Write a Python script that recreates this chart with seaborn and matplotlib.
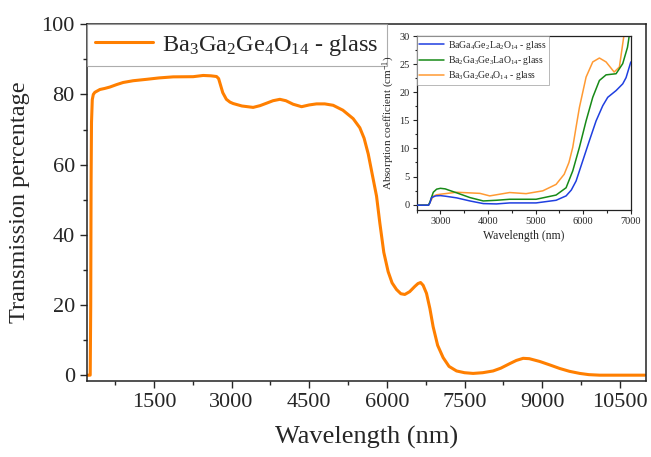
import matplotlib
matplotlib.use("Agg")
import matplotlib.pyplot as plt
from matplotlib.ticker import MultipleLocator
import seaborn as sns
import pandas as pd

# main transmission curve
main_wl = [200, 270, 280, 287, 295, 310, 330, 360, 457, 550, 650, 780, 907, 1100, 1359,
           1600, 1872, 2258, 2452, 2600, 2710, 2750, 2790, 2830, 2900, 2970, 3031, 3200,
           3417, 3550, 3676, 3800, 3933, 4050, 4189, 4352, 4500, 4641, 4800, 4962, 5150,
           5348, 5477, 5560, 5640, 5720, 5800, 5864, 5940, 6024, 6100, 6186, 6270, 6346,
           6440, 6540, 6600, 6650, 6700, 6765, 6830, 6893, 6980, 7086, 7200, 7345, 7500,
           7665, 7850, 8051, 8200, 8374, 8500, 8631, 8750, 8953, 9150, 9339, 9525, 9725,
           9900, 10111, 10980]
main_T = [0, 0, 20, 55, 72, 78.5, 80.0, 80.6, 81.4, 81.7, 82.1, 82.8, 83.4, 83.9, 84.3,
          84.7, 85.0, 85.05, 85.4, 85.3, 85.1, 84.5, 82.5, 80.5, 78.6, 77.8, 77.4, 76.7,
          76.3, 76.8, 77.5, 78.2, 78.6, 78.2, 77.2, 76.5, 77.0, 77.3, 77.3, 76.9, 75.5,
          73.1, 70.5, 67.5, 63.0, 57.0, 51.0, 43.3, 35.0, 29.5, 26.3, 24.4, 23.2, 23.0,
          23.8, 25.3, 26.1, 26.4, 25.6, 23.3, 19.0, 13.8, 8.5, 5.0, 2.5, 1.2, 0.7,
          0.5, 0.7, 1.2, 2.0, 3.3, 4.2, 4.8, 4.7, 3.9, 2.9, 1.9, 1.1, 0.5,
          0.15, 0, 0]

# inset absorption curves
blue_wl = [2500, 2750, 2780, 2814, 2900, 3000, 3100, 3340, 3620, 3900, 4175, 4455, 5010,
           5430, 5640, 5750, 5850, 5990, 6130, 6270, 6410, 6515, 6690, 6830, 6900, 7000]
blue_a = [-0.1, -0.1, 0.3, 1.25, 1.55, 1.6, 1.5, 1.2, 0.65, 0.18, 0.12, 0.3, 0.3,
          0.77, 1.55, 2.6, 4.2, 7.8, 11.4, 14.9, 17.6, 19.1, 20.3, 21.5, 22.6, 25.4]
green_wl = [2500, 2750, 2780, 2850, 2920, 3000, 3100, 3200, 3340, 3620, 3900, 4175, 4455,
            5010, 5430, 5640, 5780, 5920, 6060, 6200, 6340, 6480, 6690, 6830, 6930, 6975]
green_a = [-0.1, -0.1, 0.5, 2.2, 2.75, 2.9, 2.8, 2.5, 2.1, 1.25, 0.65, 0.77, 0.95,
           0.95, 1.7, 3.0, 6.0, 10.2, 14.9, 19.1, 22.1, 23.1, 23.3, 25.1, 28.0, 30.5]
orange_wl = [2500, 2750, 2780, 2850, 2920, 3000, 3340, 3830, 4035, 4455, 4800, 5150, 5430,
             5600, 5700, 5780, 5850, 5920, 6060, 6200, 6340, 6480, 6650, 6760, 6870]
orange_a = [-0.1, -0.1, 0.4, 1.5, 1.75, 1.85, 2.2, 2.0, 1.55, 2.15, 1.95, 2.45, 3.6,
            5.4, 7.5, 10.2, 13.8, 17.3, 22.7, 25.4, 26.1, 25.4, 23.6, 24.5, 31]

labels = [r"BaGa$_4$Ge$_2$La$_2$O$_{14}$ - glass",
          r"Ba$_2$Ga$_3$Ge$_3$LaO$_{14}$- glass",
          r"Ba$_3$Ga$_2$Ge$_4$O$_{14}$ - glass"]
colors = ["#1f3fe0", "#178a17", "#ff9a33"]

sns.set_style("ticks")
plt.rcParams["font.family"] = ["Liberation Serif", "DejaVu Serif"]
plt.rcParams["mathtext.fontset"] = "custom"
plt.rcParams["mathtext.rm"] = "Liberation Serif"
plt.rcParams["mathtext.it"] = "Liberation Serif:italic"
plt.rcParams["axes.edgecolor"] = "#222222"

fig = plt.figure(figsize=(6.51, 4.57), dpi=100)
ax = fig.add_axes([0.133, 0.166, 0.859, 0.781])

df = pd.DataFrame({"wl": main_wl, "T": main_T})
sns.lineplot(data=df, x="wl", y="T", ax=ax, color="#ff7f00", linewidth=2.2,
             label=labels[2])
ax.set_xlim(200, 11000)
ax.set_ylim(-1.7, 100)
ax.set_xticks([1500, 3000, 4500, 6000, 7500, 9000, 10500])
ax.xaxis.set_minor_locator(MultipleLocator(750))
ax.yaxis.set_major_locator(MultipleLocator(20))
ax.yaxis.set_minor_locator(MultipleLocator(10))
ax.tick_params(which="major", direction="out", length=5, width=1, labelsize=16)
ax.tick_params(which="minor", direction="out", length=3, width=1)
ax.set_xlabel("Wavelength (nm)", fontsize=19, labelpad=10)
ax.set_ylabel("Transmission percentage", fontsize=17.5, labelpad=8)
for s in ax.spines.values():
    s.set_linewidth(1.1)
leg = ax.legend(loc="upper left", fontsize=17.5, frameon=True, fancybox=False,
                borderaxespad=0, handlelength=2.4, handletextpad=0.35,
                borderpad=0.35, edgecolor="#999999")
leg.get_frame().set_linewidth(0.8)

# inset
ins = fig.add_axes([0.640, 0.540, 0.329, 0.381])
for wl, a, c, lab, z in [(blue_wl, blue_a, colors[0], labels[0], 3),
                         (green_wl, green_a, colors[1], labels[1], 2),
                         (orange_wl, orange_a, colors[2], labels[2], 1)]:
    d = pd.DataFrame({"wl": wl, "a": a})
    sns.lineplot(data=d, x="wl", y="a", ax=ins, color=c, linewidth=1.1,
                 label=lab, zorder=z)
ins.set_xlim(2500, 7000)
ins.set_ylim(-1, 30)
ins.xaxis.set_major_locator(MultipleLocator(1000))
ins.xaxis.set_minor_locator(MultipleLocator(500))
ins.yaxis.set_major_locator(MultipleLocator(5))
ins.yaxis.set_minor_locator(MultipleLocator(2.5))
ins.tick_params(which="major", direction="out", length=3, width=0.8, labelsize=7.5, pad=2)
ins.tick_params(which="minor", direction="out", length=1.8, width=0.8)
ins.set_xlabel("Wavelength (nm)", fontsize=8.5, labelpad=3)
ins.set_ylabel(r"Absorption coefficient (cm$^{-1}$)", fontsize=8, labelpad=2)
for s in ins.spines.values():
    s.set_linewidth(0.9)
ileg = ins.legend(loc="upper left", fontsize=7, frameon=True, fancybox=False,
                  borderaxespad=0, handlelength=2.6, handletextpad=0.4,
                  borderpad=0.25, labelspacing=0.25, edgecolor="#999999")
ileg.get_frame().set_linewidth(0.6)

fig.savefig("out.png", dpi=100)
